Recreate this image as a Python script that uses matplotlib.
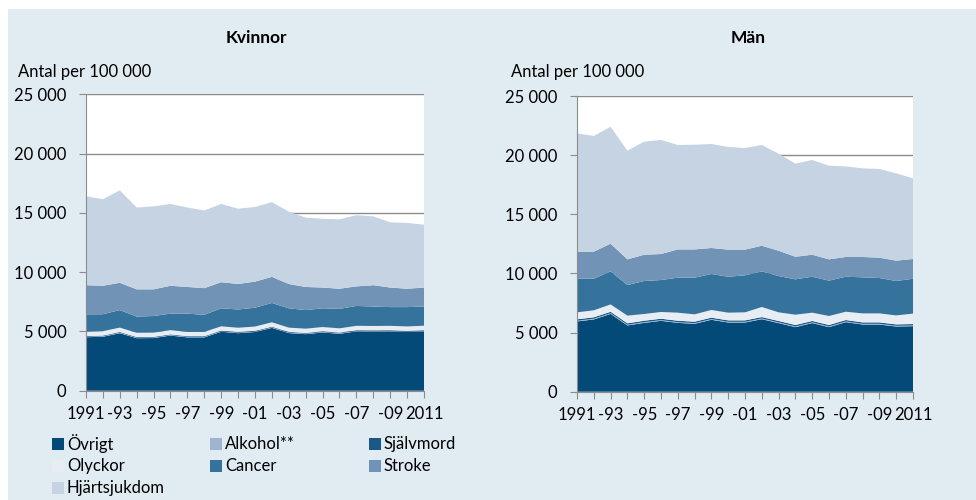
import numpy as np
import matplotlib
matplotlib.use('Agg')
import matplotlib.pyplot as plt
from matplotlib.patches import Rectangle
from matplotlib.ticker import FuncFormatter, MultipleLocator

plt.rcParams['font.family'] = ['Lato', 'DejaVu Sans']

years = list(range(1991, 2012))
causes = ['Övrigt', 'Alkohol**', 'Självmord', 'Olyckor', 'Cancer', 'Stroke', 'Hjärtsjukdom']
colors = ['#044a78', '#9fb4ce', '#1b5887', '#e8edf3', '#35739d', '#7093b6', '#c5d3e2']
bg = '#e1ebf2'

# Kvinnor, per cause
k_ovrigt = [4510, 4550, 4850, 4430, 4440, 4650, 4500, 4500, 4970, 4850, 4950, 5300, 4860, 4770, 4910, 4800, 5000, 4990, 5000, 4950, 5000]
k_alkohol = [40, 40, 40, 40, 40, 40, 40, 40, 40, 40, 40, 40, 40, 40, 40, 40, 40, 40, 40, 40, 40]
k_sjalvmord = [60, 60, 60, 60, 60, 60, 60, 60, 60, 60, 60, 60, 60, 60, 60, 60, 60, 60, 60, 60, 60]
k_olyckor = [370, 370, 370, 360, 360, 360, 360, 360, 360, 360, 360, 370, 360, 360, 360, 360, 370, 370, 370, 370, 380]
k_cancer = [1460, 1430, 1480, 1360, 1400, 1390, 1540, 1440, 1520, 1540, 1590, 1630, 1630, 1570, 1580, 1640, 1680, 1640, 1580, 1630, 1620]
k_stroke = [2460, 2400, 2300, 2300, 2250, 2350, 2250, 2250, 2200, 2150, 2200, 2200, 2050, 1950, 1750, 1700, 1650, 1800, 1650, 1550, 1600]
k_hjarta = [7500, 7300, 7800, 6900, 7000, 6900, 6700, 6550, 6600, 6350, 6300, 6300, 6100, 5850, 5800, 5850, 6000, 5800, 5500, 5550, 5300]

# Män, per cause
m_ovrigt = [5940, 6110, 6580, 5600, 5820, 5990, 5820, 5740, 6080, 5850, 5850, 6130, 5800, 5460, 5800, 5460, 5880, 5680, 5680, 5510, 5540]
m_alkohol = [60, 60, 60, 60, 60, 60, 60, 60, 60, 60, 60, 60, 60, 60, 60, 60, 60, 60, 60, 60, 60]
m_sjalvmord = [120, 120, 120, 120, 120, 120, 120, 120, 120, 120, 120, 120, 120, 120, 120, 120, 120, 120, 120, 120, 120]
m_olyckor = [590, 590, 620, 650, 570, 570, 680, 620, 650, 650, 680, 850, 730, 870, 700, 760, 700, 760, 760, 760, 880]
m_cancer = [2840, 2670, 2790, 2590, 2790, 2700, 2960, 3100, 3040, 3040, 3130, 3010, 3070, 2990, 3040, 2990, 2960, 3050, 2990, 2910, 2950]
m_stroke = [2290, 2290, 2340, 2170, 2220, 2200, 2390, 2390, 2200, 2290, 2170, 2170, 2140, 1910, 1860, 1800, 1670, 1720, 1720, 1720, 1670]
m_hjarta = [10000, 9780, 9890, 9190, 9560, 9640, 8830, 8850, 8790, 8680, 8590, 8520, 8200, 7870, 8010, 7920, 7660, 7490, 7500, 7380, 6820]

kvinnor = [k_ovrigt, k_alkohol, k_sjalvmord, k_olyckor, k_cancer, k_stroke, k_hjarta]
man = [m_ovrigt, m_alkohol, m_sjalvmord, m_olyckor, m_cancer, m_stroke, m_hjarta]

xlabels = {1991: '1991', 1993: '-93', 1995: '-95', 1997: '-97', 1999: '-99', 2001: '-01',
           2003: '-03', 2005: '-05', 2007: '-07', 2009: '-09', 2011: '2011'}

W, H = 976, 500
fig = plt.figure(figsize=(W / 100, H / 100), dpi=100)
fig.patches.append(Rectangle((8 / W, 0), 1 - 8 / W, 1 - 9 / H, transform=fig.transFigure,
                             facecolor=bg, edgecolor='none', zorder=-10))


def draw_panel(ax, data, title, title_x, ylab_x):
    ax.set_facecolor('white')
    ax.stackplot(years, *data, colors=colors, linewidth=0, zorder=2)
    ax.set_xlim(1991, 2011)
    ax.set_ylim(0, 25000)
    ax.yaxis.set_major_locator(MultipleLocator(5000))
    ax.yaxis.set_major_formatter(FuncFormatter(lambda v, p: f'{int(v):,}'.replace(',', ' ')))
    ax.set_xticks(years)
    ax.set_xticklabels([xlabels.get(y, '') for y in years])
    ax.grid(axis='y', color='#8c8c8c', linewidth=1, zorder=1)
    ax.set_axisbelow(True)
    for s in ['top', 'right']:
        ax.spines[s].set_visible(False)
    for s in ['left', 'bottom']:
        ax.spines[s].set_color('#8c8c8c')
        ax.spines[s].set_zorder(3)
    ax.tick_params(axis='both', colors='#8c8c8c', labelcolor='black', labelsize=12, length=5, direction='out')
    ax.tick_params(axis='x', pad=6)
    ax.tick_params(axis='y', pad=9)
    fig.text(title_x, 1 - 38 / H, title, ha='center', va='center', fontsize=12.5, fontweight='bold')
    fig.text(ylab_x, 1 - 72 / H, 'Antal per 100 000', ha='left', va='center', fontsize=12)


ax1 = fig.add_axes([86 / W, 1 - 390.7 / H, 338 / W, 296.4 / H])
draw_panel(ax1, kvinnor, 'Kvinnor', 256 / W, 18 / W)
ax2 = fig.add_axes([577 / W, 1 - 391.7 / H, 336 / W, 295.7 / H])
draw_panel(ax2, man, 'Män', 748 / W, 511 / W)

# legend laid out in rows of three, as in the original
col_x = [52, 210, 369]
row_y = [444, 466, 488]
sq = 12
for i, (name, c) in enumerate(zip(causes, colors)):
    x = col_x[i % 3]
    y = row_y[i // 3]
    fig.patches.append(Rectangle((x / W, 1 - (y + sq / 2) / H), sq / W, sq / H,
                                 transform=fig.transFigure, facecolor=c, edgecolor='none'))
    fig.text((x + sq + 3) / W, 1 - y / H, name, ha='left', va='center', fontsize=12)

fig.savefig('out.png', dpi=100)
